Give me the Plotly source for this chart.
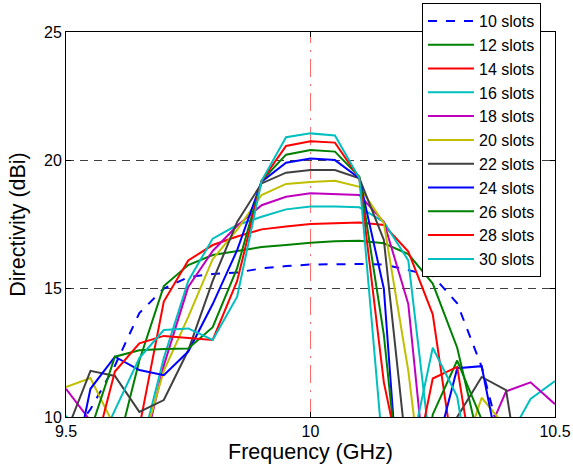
import plotly.graph_objects as go

freq = [9.5, 9.55, 9.6, 9.65, 9.7, 9.75, 9.8, 9.85, 9.9, 9.95, 10.0,
        10.05, 10.1, 10.15, 10.2, 10.25, 10.3, 10.35, 10.4, 10.45, 10.5]

s10 = [9.0, 10.3, 12.0, 14.05, 15.0, 15.45, 15.57, 15.63, 15.79, 15.88, 15.94,
       15.96, 15.96, 15.94, 15.73, 15.5, 14.43, 11.96, 8.3, 8.0, 8.0]
s12 = [7.0, 7.0, 8.4, 12.2, 15.1, 15.92, 16.31, 16.47, 16.62, 16.7, 16.79,
       16.85, 16.87, 16.77, 16.35, 15.2, 12.7, 8.6, 7.0, 7.0, 7.0]
s14 = [7.0, 7.0, 7.0, 9.6, 14.5, 16.1, 16.7, 17.03, 17.31, 17.42, 17.52,
       17.55, 17.58, 17.48, 16.45, 14.0, 7.5, 7.0, 7.0, 7.5, 10.0]
s16 = [10.05, 8.5, 8.0, 8.5, 12.3, 15.3, 16.95, 17.48, 17.8, 18.09, 18.2,
       18.2, 18.17, 17.6, 16.1, 8.0, 7.0, 7.0, 9.0, 10.7, 11.4]
s18 = [11.1, 9.85, 8.0, 8.0, 12.0, 15.07, 16.47, 17.45, 18.25, 18.58, 18.72,
       18.68, 18.65, 17.6, 14.4, 5.0, 5.0, 8.8, 11.0, 11.35, 10.5]
s20 = [11.17, 11.52, 9.6, 8.5, 11.8, 13.9, 16.15, 17.3, 18.65, 19.08, 19.16,
       19.2, 18.97, 17.55, 11.8, 4.0, 7.9, 10.75, 9.6, 8.0, 8.0]
s22 = [9.37, 11.8, 11.6, 10.2, 10.66, 12.6, 15.3, 17.6, 19.1, 19.52, 19.62,
       19.62, 19.3, 16.9, 8.0, 8.0, 10.0, 11.56, 11.05, 5.0, 5.0]
s24 = [6.5, 11.1, 12.35, 11.83, 11.63, 12.55, 14.4, 16.5, 19.17, 19.91, 20.07,
       20.01, 19.3, 15.0, 2.0, 8.2, 11.9, 11.98, 7.2, 7.0, 7.0]
s26 = [8.0, 9.47, 12.35, 12.6, 12.65, 12.67, 13.5, 15.8, 19.2, 20.22, 20.4,
       20.34, 19.36, 13.2, 4.0, 10.1, 12.2, 9.9, 7.0, 7.0, 7.0]
s28 = [7.0, 8.1, 11.77, 12.87, 13.16, 13.08, 13.0, 15.3, 19.2, 20.56, 20.74,
       20.69, 19.3, 11.35, 6.8, 11.5, 11.95, 6.0, 6.0, 6.0, 6.0]
s30 = [7.0, 8.2, 10.27, 12.3, 13.39, 13.45, 13.0, 14.69, 19.2, 20.9, 21.05,
       20.97, 19.3, 8.25, 8.2, 12.7, 10.8, 5.0, 5.0, 5.0, 5.0]

names = ["10 slots", "12 slots", "14 slots", "16 slots", "18 slots", "20 slots",
         "22 slots", "24 slots", "26 slots", "28 slots", "30 slots"]
series = [s10, s12, s14, s16, s18, s20, s22, s24, s26, s28, s30]
colors = ["#0000FF", "#008000", "#FF0000", "#00BFBF", "#BF00BF", "#BFBF00",
          "#404040", "#0000FF", "#008000", "#FF0000", "#00BFBF"]
dashes = ["dash"] + ["solid"] * 10

x_ticks = [9.5, 10, 10.5]
x_ticklabels = ["9.5", "10", "10.5"]
y_ticks = [10, 15, 20, 25]
y_ticklabels = ["10", "15", "20", "25"]

fig = go.Figure()
for name, vals, col, dsh in zip(names, series, colors, dashes):
    fig.add_trace(go.Scatter(x=freq, y=vals, mode="lines", name=name,
                             line=dict(color=col, width=2, dash=dsh)))

fig.add_shape(type="line", xref="x", yref="y domain", x0=10, x1=10, y0=0, y1=1,
              line=dict(color="rgba(255,60,60,0.75)", width=1, dash="18px,7px,2px,7px"),
              layer="below")

W, H = 573, 472
m_l, m_r, m_t, m_b = 66, 18, 2, 55
plot_top_px = 32
gs_h = H - m_t - m_b
y_dom_top = (gs_h - (plot_top_px - m_t)) / gs_h
legend_top_px = 3
legend_y = (H - m_b - legend_top_px) / gs_h

font_family = "Liberation Sans, Arial, sans-serif"
fig.update_layout(
    template="none",
    width=W, height=H, autosize=False,
    margin=dict(l=m_l, r=m_r, t=m_t, b=m_b, pad=0, autoexpand=False),
    paper_bgcolor="white", plot_bgcolor="white",
    font=dict(family=font_family, color="black", size=16),
    showlegend=True,
    hovermode=False,
    legend=dict(x=0.728, y=legend_y, xanchor="left", yanchor="top",
                bgcolor="white", bordercolor="black", borderwidth=1,
                font=dict(size=16, family=font_family), tracegroupgap=0,
                itemwidth=46, maxheight=320),
    xaxis=dict(range=[9.5, 10.5], tickvals=x_ticks, ticktext=x_ticklabels,
               showgrid=False, zeroline=False, showline=True, linecolor="black",
               linewidth=1, mirror="ticks", ticks="inside", ticklen=5,
               tickcolor="black", tickfont=dict(size=16), automargin=False,
               title=dict(text="Frequency (GHz)", font=dict(size=21.5), standoff=0)),
    yaxis=dict(range=[10, 25], domain=[0, y_dom_top], tickvals=y_ticks,
               ticktext=y_ticklabels, automargin=False,
               showgrid=True, gridcolor="#404040", gridwidth=1, griddash="8px,6px",
               zeroline=False, showline=True, linecolor="black",
               linewidth=1, mirror="ticks", ticks="inside", ticklen=5,
               tickcolor="black", tickfont=dict(size=16),
               title=dict(text="Directivity (dBi)", font=dict(size=21.5), standoff=12)),
)

fig.write_html("out.html",
               config={"displayModeBar": False, "staticPlot": True},
               post_script="document.body.style.margin='0px';"
                           "document.body.style.overflow='hidden';")
